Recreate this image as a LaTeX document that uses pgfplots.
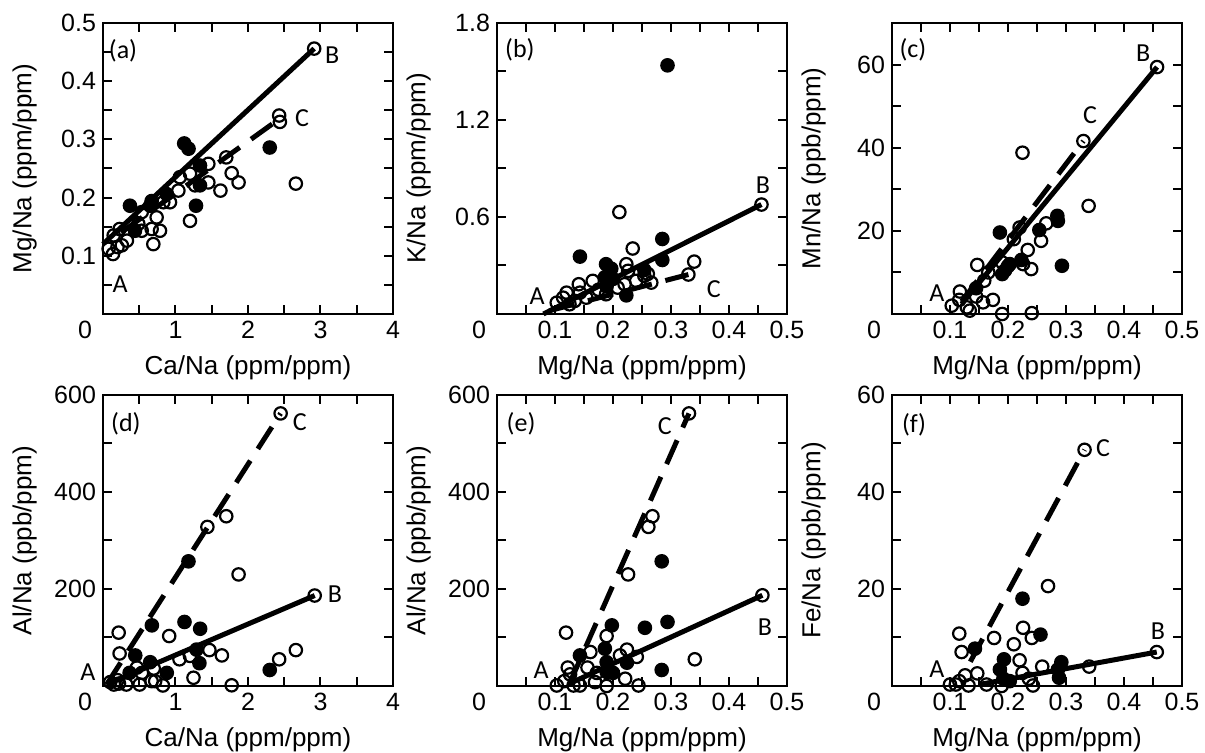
\documentclass[border=0pt]{standalone}
\usepackage{fontspec}
\setmainfont{Liberation Sans}
\newfontfamily\calib{Carlito}
\usepackage{pgfplots}
\pgfplotsset{compat=1.18}

\newcommand{\tks}{\fontsize{12.5}{14}\selectfont}
\newcommand{\lbs}{\fontsize{13}{15}\selectfont}
\newcommand{\ann}{\calib\fontsize{13}{15}\selectfont}

\pgfplotsset{
  panel/.style={
    width=145pt, height=145.5pt, scale only axis, clip=false,
    axis line style={line width=1pt},
    every tick/.style={line width=1pt, black},
    major tick length=4.5pt, minor tick length=4.5pt,
    tick align=inside, xtick pos=both, ytick pos=both,
    xticklabel pos=lower, yticklabel pos=left,
    tick label style={font=\tks},
    /pgf/number format/assume math mode=true,
    label style={font=\lbs},
    xlabel style={at={(axis description cs:0.5,-0.185)}, anchor=center},
    ylabel style={at={(axis description cs:-0.27,0.5)}, anchor=center, rotate=0},
  },
  openpt/.style={only marks, mark=o, mark size=3.1pt, mark options={fill=white, draw=black, line width=1.1pt}},
  fullpt/.style={only marks, mark=*, mark size=3.1pt, mark options={fill=black, draw=black, line width=1.1pt}},
  mixB/.style={no marks, black, line width=2.5pt},
  mixC/.style={no marks, black, line width=2.5pt, dash pattern=on 13pt off 7pt},
}

\begin{document}
\begin{tikzpicture}
\useasboundingbox (0,0) rectangle (602.5pt,376.5pt);

% (a)
\begin{axis}[panel, at={(51.5pt,365pt)}, anchor=north west,
  xmin=0, xmax=4, ymin=0, ymax=0.5,
  xtick={1,2,3,4}, minor xtick={0.5,1.5,2.5,3.5},
  ytick={0.1,0.2,0.3,0.4,0.5}, minor ytick={0.05,0.15,0.25,0.35,0.45},
  xlabel={Ca/Na (ppm/ppm)}, ylabel={Mg/Na (ppm/ppm)}]
\addplot[mixB] coordinates {(0,0.12) (2.913,0.456)};
\addplot[mixC] coordinates {(0.25,0.14) (2.43,0.335)};
\addplot[openpt] coordinates {(2.913,0.456) (2.43,0.341) (2.44,0.330) (2.66,0.224) (1.70,0.269) (1.775,0.242) (1.87,0.226) (1.62,0.212) (1.453,0.258) (1.453,0.226) (1.20,0.160) (1.06,0.235) (1.20,0.241) (1.04,0.212) (1.27,0.221) (0.924,0.192) (0.832,0.192) (0.74,0.166) (0.671,0.146) (0.786,0.143) (0.694,0.120) (0.534,0.175) (0.487,0.155) (0.534,0.143) (0.229,0.146) (0.147,0.135) (0.33,0.126) (0.26,0.118) (0.2,0.115) (0.138,0.103) (0.078,0.112)};
\addplot[fullpt] coordinates {(1.12,0.293) (1.18,0.284) (2.30,0.286) (1.338,0.255) (1.338,0.221) (1.283,0.186) (0.878,0.206) (0.671,0.194) (0.651,0.186) (0.372,0.186) (0.441,0.143)};
\node[font=\tks, anchor=north east, xshift=-2pt] at (rel axis cs:0,0) {0};
\node[font=\ann] at (rel axis cs:0.069,0.903) {(a)};
\node[font=\ann] at (rel axis cs:0.059,0.103) {A};
\node[font=\ann] at (rel axis cs:0.79,0.89) {B};
\node[font=\ann] at (rel axis cs:0.686,0.672) {C};
\end{axis}

% (b)
\begin{axis}[panel, at={(248.5pt,365pt)}, anchor=north west,
  xmin=0, xmax=0.5, ymin=0, ymax=1.8,
  xtick={0.1,0.2,0.3,0.4,0.5}, minor xtick={0.05,0.15,0.25,0.35,0.45},
  ytick={0.6,1.2,1.8}, minor ytick={0.3,0.9,1.5},
  xlabel={Mg/Na (ppm/ppm)}, ylabel={K/Na (ppm/ppm)}]
\addplot[mixB] coordinates {(0.08,0) (0.456,0.677)};
\addplot[mixC] coordinates {(0.09,0.02) (0.330,0.244)};
\addplot[openpt] coordinates {(0.456,0.677) (0.211,0.630) (0.234,0.405) (0.34,0.324) (0.330,0.244) (0.266,0.194) (0.26,0.248) (0.254,0.236) (0.24,0.205) (0.223,0.308) (0.226,0.267) (0.22,0.184) (0.208,0.163) (0.188,0.122) (0.165,0.205) (0.141,0.184) (0.12,0.132) (0.114,0.101) (0.134,0.081) (0.103,0.070) (0.143,0.132) (0.154,0.101) (0.125,0.06) (0.175,0.15)};
\addplot[fullpt] coordinates {(0.294,1.538) (0.285,0.464) (0.285,0.334) (0.143,0.355) (0.188,0.308) (0.197,0.28) (0.186,0.227) (0.2,0.217) (0.254,0.272) (0.223,0.115) (0.189,0.17)};
\node[font=\tks, anchor=north east, xshift=-2pt] at (rel axis cs:0,0) {0};
\node[font=\ann] at (rel axis cs:0.079,0.907) {(b)};
\node[font=\ann] at (rel axis cs:0.138,0.062) {A};
\node[font=\ann] at (rel axis cs:0.917,0.441) {B};
\node[font=\ann] at (rel axis cs:0.748,0.086) {C};
\end{axis}

% (c)
\begin{axis}[panel, at={(446pt,365pt)}, anchor=north west,
  xmin=0, xmax=0.5, ymin=0, ymax=70,
  xtick={0.1,0.2,0.3,0.4,0.5}, minor xtick={0.05,0.15,0.25,0.35,0.45},
  ytick={20,40,60}, minor ytick={10,30,50},
  xlabel={Mg/Na (ppm/ppm)}, ylabel={Mn/Na (ppb/ppm)}]
\addplot[mixB] coordinates {(0.12,2.4) (0.457,59.4)};
\addplot[mixC] coordinates {(0.12,3) (0.330,41.6)};
\addplot[openpt] coordinates {(0.457,59.4) (0.330,41.6) (0.225,38.8) (0.339,26) (0.22,20.8) (0.266,21.8) (0.257,17.6) (0.234,15.4) (0.24,10.8) (0.21,18) (0.226,12) (0.19,12.4) (0.166,10) (0.147,11.8) (0.159,8) (0.174,3.4) (0.157,2.8) (0.117,5.4) (0.116,3.4) (0.103,2) (0.129,1.6) (0.134,0.8) (0.19,0) (0.241,0.2) (0.145,4.2) (0.2,11.5)};
\addplot[fullpt] coordinates {(0.186,19.6) (0.285,23.6) (0.286,22.4) (0.254,20.2) (0.293,11.6) (0.223,13) (0.203,12) (0.19,9.6) (0.145,6.2) (0.195,10.5)};
\node[font=\tks, anchor=north east, xshift=-2pt] at (rel axis cs:0,0) {0};
\node[font=\ann] at (rel axis cs:0.072,0.907) {(c)};
\node[font=\ann] at (rel axis cs:0.155,0.072) {A};
\node[font=\ann] at (rel axis cs:0.866,0.897) {B};
\node[font=\ann] at (rel axis cs:0.683,0.683) {C};
\end{axis}

% (d)
\begin{axis}[panel, at={(51.5pt,179pt)}, anchor=north west,
  xmin=0, xmax=4, ymin=0, ymax=600,
  xtick={1,2,3,4}, minor xtick={0.5,1.5,2.5,3.5},
  ytick={200,400,600}, minor ytick={100,300,500},
  xlabel={Ca/Na (ppm/ppm)}, ylabel={Al/Na (ppb/ppm)}]
\addplot[mixB] coordinates {(0.05,3) (2.92,186.5)};
\addplot[mixC] coordinates {(0.05,3) (2.45,562)};
\addplot[openpt] coordinates {(2.45,562) (2.92,186.5) (1.70,350) (1.44,328) (1.87,230) (0.913,103) (0.216,110) (0.229,67) (2.66,74) (2.43,55) (1.468,74) (1.64,63) (1.20,62) (1.055,55) (1.248,17) (1.775,1.4) (0.826,1) (0.72,10) (0.67,10) (0.537,27) (0.468,38) (0.70,36) (0.505,3) (0.321,3) (0.22,5) (0.15,3) (0.1,8) (0.2,12)};
\addplot[fullpt] coordinates {(1.179,257) (0.674,125) (1.124,132) (1.34,118) (1.29,75) (1.33,47) (0.445,63) (0.651,49) (0.367,27) (0.88,27) (2.30,33)};
\node[font=\tks, anchor=north east, xshift=-2pt] at (rel axis cs:0,0) {0};
\node[font=\ann] at (rel axis cs:0.079,0.90) {(d)};
\node[font=\ann] at (rel axis cs:-0.052,0.048) {A};
\node[font=\ann] at (rel axis cs:0.80,0.315) {B};
\node[font=\ann] at (rel axis cs:0.679,0.907) {C};
\end{axis}

% (e)
\begin{axis}[panel, at={(248.5pt,179pt)}, anchor=north west,
  xmin=0, xmax=0.5, ymin=0, ymax=600,
  xtick={0.1,0.2,0.3,0.4,0.5}, minor xtick={0.05,0.15,0.25,0.35,0.45},
  ytick={200,400,600}, minor ytick={100,300,500},
  xlabel={Mg/Na (ppm/ppm)}, ylabel={Al/Na (ppb/ppm)}]
\addplot[mixB] coordinates {(0.125,5) (0.4576,187)};
\addplot[mixC] coordinates {(0.125,5) (0.331,562)};
\addplot[openpt] coordinates {(0.331,562) (0.4576,187) (0.268,350) (0.261,328) (0.226,230) (0.119,110) (0.189,103) (0.341,55) (0.224,75) (0.212,63) (0.241,60) (0.161,70) (0.122,38) (0.156,38) (0.172,27) (0.126,24) (0.116,10) (0.103,1) (0.132,1) (0.143,1) (0.169,8) (0.189,0) (0.221,15) (0.244,1)};
\addplot[fullpt] coordinates {(0.284,257) (0.294,132) (0.255,120) (0.198,125) (0.186,77) (0.143,63) (0.189,49) (0.224,48) (0.284,33) (0.189,29) (0.2,27)};
\node[font=\tks, anchor=north east, xshift=-2pt] at (rel axis cs:0,0) {0};
\node[font=\ann] at (rel axis cs:0.083,0.90) {(e)};
\node[font=\ann] at (rel axis cs:0.152,0.055) {A};
\node[font=\ann] at (rel axis cs:0.924,0.202) {B};
\node[font=\ann] at (rel axis cs:0.579,0.894) {C};
\end{axis}

% (f)
\begin{axis}[panel, at={(446pt,179pt)}, anchor=north west,
  xmin=0, xmax=0.5, ymin=0, ymax=60,
  xtick={0.1,0.2,0.3,0.4,0.5}, minor xtick={0.05,0.15,0.25,0.35,0.45},
  ytick={20,40,60}, minor ytick={10,30,50},
  xlabel={Mg/Na (ppm/ppm)}, ylabel={Fe/Na (ppb/ppm)}]
\addplot[mixB] coordinates {(0.15,0.3) (0.4565,7.0)};
\addplot[mixC] coordinates {(0.135,5) (0.332,48.7)};
\addplot[openpt] coordinates {(0.332,48.7) (0.4565,7.0) (0.340,4.0) (0.269,20.6) (0.116,10.8) (0.12,7.0) (0.176,9.9) (0.210,8.6) (0.226,12.0) (0.241,9.9) (0.220,5.3) (0.259,4.0) (0.225,2.7) (0.236,1.5) (0.243,0.1) (0.189,0) (0.147,2.6) (0.126,2.2) (0.116,1.0) (0.10,0.3) (0.132,0.1) (0.163,0.3) (0.11,0.3)};
\addplot[fullpt] coordinates {(0.225,18.0) (0.256,10.6) (0.143,7.7) (0.193,5.5) (0.186,3.4) (0.292,4.9) (0.286,3.4) (0.288,1.7) (0.192,1.5) (0.203,1.0)};
\node[font=\tks, anchor=north east, xshift=-2pt] at (rel axis cs:0,0) {0};
\node[font=\ann] at (rel axis cs:0.076,0.897) {(f)};
\node[font=\ann] at (rel axis cs:0.155,0.058) {A};
\node[font=\ann] at (rel axis cs:0.917,0.188) {B};
\node[font=\ann] at (rel axis cs:0.728,0.818) {C};
\end{axis}
\end{tikzpicture}
\end{document}
